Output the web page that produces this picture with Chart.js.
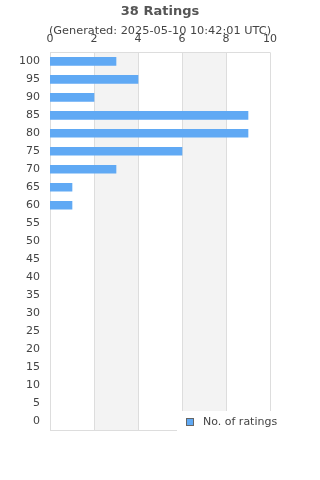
<!DOCTYPE html>
<html>
<head>
<meta charset="utf-8">
<script src="https://cdn.jsdelivr.net/npm/chart.js@4/dist/chart.umd.min.js"></script>
<style>
  html, body { margin: 0; padding: 0; background: #fff; }
  #wrap { width: 320px; height: 480px; }
</style>
</head>
<body>
<div id="wrap"><canvas id="myChart" width="320" height="480"></canvas></div>
<script>
const scores = ["100", "95", "90", "85", "80", "75", "70", "65", "60", "55", "50",
  "45", "40", "35", "30", "25", "20", "15", "10", "5", "0"];
const ratings = [3, 4, 2, 9, 9, 6, 3, 1, 1, 0, 0, 0, 0, 0, 0, 0, 0, 0, 0, 0, 0];
const xTicks = [0, 2, 4, 6, 8, 10];
const shadedBands = [[2, 4], [6, 8]];

const colors = {
  bar: "#60a9f4",
  band: "#f3f3f3",
  grid: "#dddddd",
  text: "#444444"
};

const FONT = "'DejaVu Sans', sans-serif";

// grey bands and the frame around the plot
const bandsPlugin = {
  id: "bands",
  beforeDatasetsDraw(chart) {
    const { ctx, chartArea, scales } = chart;
    ctx.save();
    ctx.fillStyle = colors.band;
    shadedBands.forEach(([a, b]) => {
      const x1 = scales.x.getPixelForValue(a);
      const x2 = scales.x.getPixelForValue(b);
      ctx.fillRect(x1, chartArea.top, x2 - x1, chartArea.bottom - chartArea.top);
    });
    ctx.strokeStyle = colors.grid;
    ctx.lineWidth = 1;
    xTicks.forEach(v => {
      const x = Math.round(scales.x.getPixelForValue(v)) + 0.5;
      ctx.beginPath();
      ctx.moveTo(x, chartArea.top);
      ctx.lineTo(x, chartArea.bottom);
      ctx.stroke();
    });
    ctx.beginPath();
    ctx.moveTo(chartArea.left, Math.round(chartArea.bottom) + 0.5);
    ctx.lineTo(chartArea.right, Math.round(chartArea.bottom) + 0.5);
    ctx.moveTo(chartArea.left, Math.round(chartArea.top) + 0.5);
    ctx.lineTo(chartArea.right, Math.round(chartArea.top) + 0.5);
    ctx.stroke();
    ctx.restore();
  }
};

// legend box sitting over the bottom right of the plot
const legendPlugin = {
  id: "boxLegend",
  afterDraw(chart) {
    const { ctx, chartArea } = chart;
    const ds = chart.data.datasets[0];
    const x = chartArea.right - 93;
    const y = chartArea.bottom - 19;
    ctx.save();
    ctx.fillStyle = "#fff";
    ctx.fillRect(x, y, 120, 24);
    ctx.fillStyle = ds.backgroundColor;
    ctx.fillRect(x + 9, y + 7, 8, 8);
    ctx.strokeStyle = "#666";
    ctx.lineWidth = 1;
    ctx.strokeRect(x + 9.5, y + 7.5, 7, 7);
    ctx.fillStyle = colors.text;
    ctx.font = "11px " + FONT;
    ctx.textBaseline = "middle";
    ctx.fillText(ds.label, x + 26, y + 11);
    ctx.restore();
  }
};

new Chart(document.getElementById("myChart"), {
  type: "bar",
  data: {
    labels: scores,
    datasets: [{
      label: "No. of ratings",
      data: ratings.map(v => (v === 0 ? null : v)),
      backgroundColor: colors.bar,
      barThickness: 8
    }]
  },
  options: {
    indexAxis: "y",
    responsive: false,
    animation: false,
    layout: { padding: { left: 0, right: 0, bottom: 50, top: 0 } },
    plugins: {
      legend: { display: false },
      tooltip: { enabled: false },
      title: {
        display: true,
        text: "38 Ratings",
        color: "#555",
        font: { family: FONT, size: 13, weight: "bold" },
        padding: { top: 4, bottom: 2 }
      },
      subtitle: {
        display: true,
        text: "(Generated: 2025-05-10 10:42:01 UTC)",
        color: colors.text,
        font: { family: FONT, size: 11.3 },
        padding: { top: 3, bottom: -13 }
      }
    },
    scales: {
      x: {
        position: "top",
        min: 0,
        max: 10,
        afterBuildTicks(axis) { axis.ticks = xTicks.map(v => ({ value: v })); },
        grid: { display: false, drawTicks: false },
        border: { display: false },
        ticks: {
          color: colors.text,
          font: { family: FONT, size: 11 },
          padding: 7
        }
      },
      y: {
        afterFit(axis) { axis.width = 50; },
        grid: { display: false, drawTicks: false },
        border: { display: false },
        ticks: {
          color: colors.text,
          font: { family: FONT, size: 11 },
          padding: 10
        }
      },
      y2: {
        type: "category",
        position: "right",
        afterFit(axis) { axis.width = 50; },
        grid: { display: false, drawTicks: false },
        border: { display: false },
        ticks: { display: false }
      }
    }
  },
  plugins: [bandsPlugin, legendPlugin]
});
</script>
</body>
</html>
